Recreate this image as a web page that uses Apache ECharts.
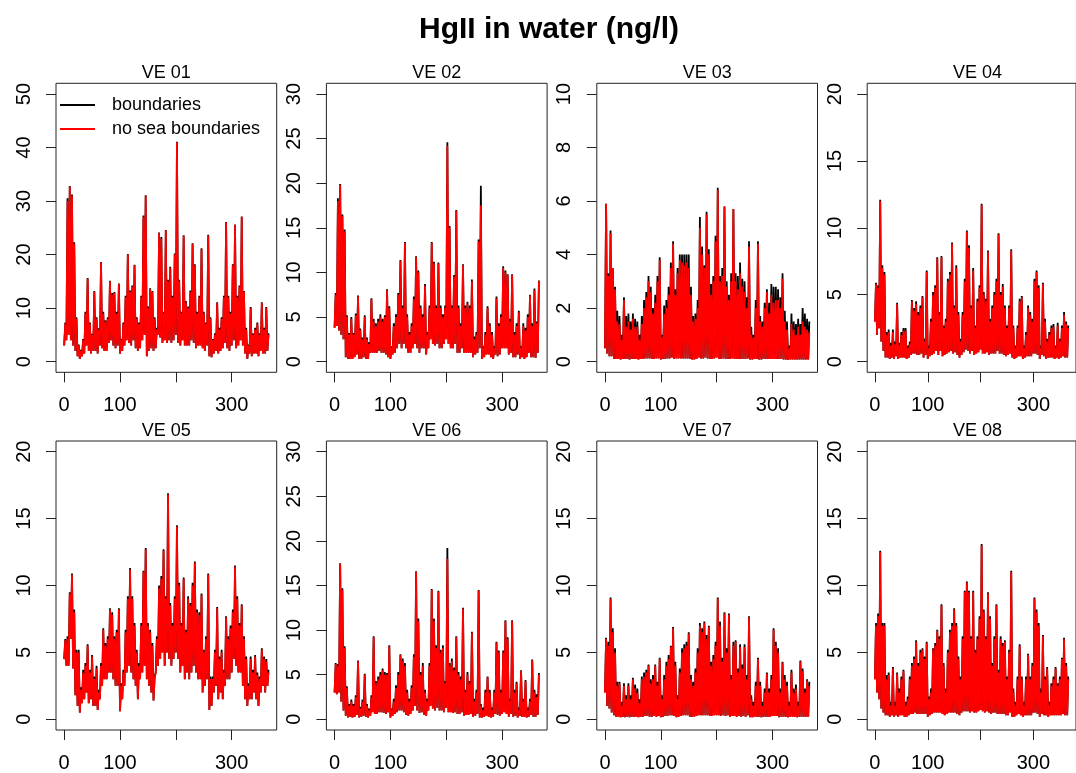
<!DOCTYPE html>
<html><head><meta charset="utf-8">
<script src="https://cdn.jsdelivr.net/npm/echarts@6/dist/echarts.min.js"></script>
<style>html,body{margin:0;padding:0;background:#fff}#chart{width:1076px;height:773px}</style>
</head><body><div id="chart"></div>
<script>
const FONT = '"Liberation Sans", Arial, Helvetica, sans-serif';
const mainTitle = 'HgII in water (ng/l)';
const panelTitles = ['VE 01', 'VE 02', 'VE 03', 'VE 04', 'VE 05', 'VE 06', 'VE 07', 'VE 08'];
const seriesNames = ['boundaries', 'no sea boundaries'];
const dayStep = 4; // each entry covers 4 days: [low of window, high of window]
const xTickValues = [0, 100, 200, 300];
const xLabelValues = [0, 100, 300];
const yLimits = [50, 30, 10, 20, 20, 30, 20, 20];
const yTickSteps = [10, 5, 2, 5, 5, 5, 5, 5];

// ---- VE 01 ----
const ve01Low = [
 3,4,5,4,3,2,1,0.5,1,1.5,
 3,2,1.5,2,2,1.5,3,2.5,2,2,
 3.5,4,3,2.5,3,1.5,2,3,4,3.5,
 3,4,2.5,2,2.5,4,5,1,2,2.5,
 2,2.5,5,4.5,3.5,4,3.5,4,3.5,4,
 5,3.5,3,4,3,3,3,4,3.5,2.5,
 3,3,2.5,2,3,1,0.8,1.5,2,1.5,
 2,2.5,3.5,2.5,2,3,4,2.5,3,4,
 3,1.5,0.5,1.5,1,1.5,1.5,1,2,1.5,
 1.5,2];
const ve01RedHigh = [
 7,30,32.7,31,22,8,3,2,4,9,
 15.5,7,5,13,8,6,18.5,9,7.5,8,
 15,12.5,12.8,9,14.5,4,7,12,20,13,
 14,18,8,7,12,27,31,10,13.5,13,
 8,6,24,23,9,24.5,15,17.5,12,20,
 41,15,9,23.5,11,10,13,22,18,9,
 12,21,9,7,23.5,8,4,5,11,6,
 8,12,26,12,9,18,25.5,12,14,27,
 13,6,3,10,5,6,7,5,11,6,
 10,5];
const ve01BlackHigh = [
 7.3,30.5,32.8,31.2,22.3,8.3,3.2,2.2,4.2,9.3,
 15.6,7.3,5.2,13.2,8.3,6.2,18.6,9.3,7.7,8.3,
 15.1,12.8,13,9.3,14.6,4.2,7.3,12.3,20.1,13.3,
 14.2,18.1,8.3,7.3,12.3,27.3,31.1,10.3,13.7,13.2,
 8.3,6.3,24.1,23.3,9.3,24.6,15.3,17.7,12.3,20.2,
 41.1,15.3,9.3,23.6,11.3,10.3,13.3,22.1,18.2,9.3,
 12.3,21.2,9.3,7.3,23.7,8.3,4.2,5.3,11.1,6.3,
 8.3,12.3,26.1,12.3,9.3,18.2,25.6,12.3,14.2,27.1,
 13.2,6.3,3.2,10.2,5.3,6.3,7.3,5.3,11.1,6.3,
 10.2,5.3];

// ---- VE 02 ----
const ve02Low = [
 3.8,4,3.5,3,2.5,0.5,0.3,0.3,0.3,0.5,
 0.8,0.3,0.3,0.5,0.3,0.3,1,1,1,1,
 1.2,1,1,0.8,0.5,0.3,0.8,1,1.5,2,
 1.5,2,1.5,1,1,1.5,2,1.5,1,1.5,
 1.5,0.8,1.5,2.5,2,1.8,2,1.5,1.5,2,
 2.5,2,1.5,1.5,2,1,1,1.5,1,1,
 1,1,0.5,0.8,1,1.5,0.3,0.5,0.8,0.8,
 0.5,0.3,0.8,0.6,0.8,1.5,1.5,1.5,0.8,1,
 0.5,0.5,0.8,0.3,0.5,0.3,0.5,1,0.5,0.5,
 0.4,1];
const ve02RedHigh = [
 7.5,18,19.8,16.3,14.6,5,3,4.8,3,5.2,
 7.3,3.5,2.5,5,2.5,2,7,4.5,4,4.5,
 5,4.5,5,8,6,1.5,4,5,7.5,11.3,
 6,13.3,5,3,4,7,11.7,10,6,5,
 8.5,3,6,13.3,11,6,11,6,5,6,
 24.2,15,6,9.5,16.9,6,4,10.8,6,6.5,
 6,9,2.5,3,13.5,17.5,1.5,3,6,4,
 3,1.5,7.1,4,5,10.5,10,9.7,4.5,9.7,
 3,4,5.5,1.5,4,3.5,5,7.4,4,8,
 4.3,9];
const ve02BlackHigh = [
 7.7,18.3,19.9,16.5,14.8,5.2,3.2,5,3.2,5.4,
 7.4,3.7,2.7,5.2,2.7,2.2,7.1,4.8,4.3,4.8,
 5.3,4.8,5.2,8.1,6.2,1.7,4.3,5.3,7.7,11.4,
 6.3,13.4,5.3,3.3,4.3,7.3,11.8,10.2,6.3,5.3,
 8.7,3.3,6.3,13.4,11.2,6.3,11.1,6.3,5.3,6.3,
 24.6,15.2,6.3,9.7,17,6.3,4.3,10.9,6.3,6.7,
 6.3,9.2,2.8,3.3,13.7,19.7,1.7,3.3,6.2,4.3,
 3.3,1.7,7.3,4.3,5.3,10.7,10.2,9.8,4.8,9.8,
 3.3,4.3,5.7,1.7,4.3,3.8,5.3,7.5,4.3,8.2,
 4.5,9.1];

// ---- VE 03 ----
const ve03Low = [
 0.5,0.3,0.2,0.2,0.1,0.1,0.1,0.08,0.1,0.1,
 0.1,0.08,0.1,0.1,0.1,0.08,0.1,0.1,0.12,0.12,
 0.12,0.1,0.1,0.12,0.12,0.08,0.1,0.1,0.12,0.12,
 0.15,0.1,0.12,0.12,0.12,0.12,0.12,0.12,0.1,0.08,
 0.08,0.1,0.15,0.12,0.12,0.15,0.12,0.1,0.1,0.12,
 0.15,0.1,0.1,0.12,0.1,0.1,0.1,0.12,0.1,0.1,
 0.1,0.1,0.1,0.1,0.12,0.08,0.08,0.1,0.1,0.08,
 0.08,0.1,0.1,0.1,0.1,0.1,0.1,0.1,0.1,0.1,
 0.08,0.08,0.06,0.08,0.08,0.08,0.08,0.08,0.08,0.08,
 0.08,0.08];
const ve03RedHigh = [
 5.9,3.2,4.8,3.5,2.7,1.5,1.4,0.8,2.3,1.3,
 1.5,1.2,1.6,1.3,1.3,0.8,1.4,2,2.4,3,
 2.6,1.8,2.2,3,3.8,0.9,1.8,2,2.5,3.5,
 4.4,2.5,3.3,3.8,3.7,3.6,3.7,3.5,2.5,1.5,
 1.6,2,5,4,3.5,5.5,4,2.5,3,4.5,
 6.4,3,3.2,5.8,2.8,2.3,3,5.7,3,2.7,
 3.3,2.8,2.6,2,4.3,1,0.9,2,4.4,1.5,
 1.3,2,2.6,1.8,2.5,2.2,2.3,2.3,2,3.1,
 1.5,1.2,0.5,1.4,1.2,1,1.3,1,1.5,1.3,
 1.2,1.1];
const ve03BlackHigh = [
 5.9,3.3,4.9,3.5,2.8,1.9,1.7,1,2.4,1.7,
 1.8,1.5,1.8,1.6,1.5,1,1.7,2.3,2.6,3.2,
 2.8,2,2.5,3.2,3.9,1,2.1,2.3,2.8,3.7,
 4.5,2.7,3.5,4,4,4,4,4,2.8,1.7,
 1.8,2.3,5.4,4.3,3.6,5.6,4.2,2.9,3.2,4.7,
 6.5,3.2,3.5,5.8,3,2.5,3.3,5.7,3.3,3.2,
 3.7,3.1,3,2.4,4.5,1.3,1,2.3,4.5,1.7,
 1.5,2.2,2.7,2.2,2.9,2.8,2.8,2.7,2.4,3.3,
 1.9,1.5,0.6,1.8,1.5,1.4,1.6,1.4,2,1.8,
 1.6,1.5];

// ---- VE 04 ----
const ve04Low = [
 3,2,2.5,1.5,0.8,0.3,0.3,0.2,0.3,0.2,
 0.4,0.2,0.3,0.3,0.3,0.2,0.3,0.5,0.6,0.6,
 0.5,0.5,0.6,0.3,0.5,0.2,0.4,0.5,0.6,0.8,
 0.5,0.8,0.4,0.5,0.6,0.7,0.8,0.6,0.7,0.5,
 0.3,0.5,0.7,0.9,0.8,0.6,0.8,0.5,0.6,0.7,
 0.9,0.6,0.6,0.7,0.5,0.6,0.6,0.6,0.8,0.6,
 0.6,0.5,0.4,0.5,0.6,0.3,0.2,0.3,0.4,0.4,
 0.2,0.3,0.4,0.4,0.4,0.6,0.6,0.5,0.2,0.5,
 0.4,0.2,0.3,0.3,0.3,0.2,0.3,0.2,0.3,0.4,
 0.3,0.3];
const ve04RedHigh = [
 5.8,5.5,12,7,6.5,2,2.2,1.2,2.2,1.3,
 4.3,1.2,2,2.3,2.3,1,1.3,4.5,3.8,4.3,
 3.5,4,4.8,1.5,6.7,1,3,5,5.5,7.7,
 3.5,7.8,2.5,3,6,6.5,8.8,4,7,3.5,
 1.5,3.5,6,9.7,8.5,4,6.8,2.5,4.5,5.5,
 11.7,5,4.5,8.2,3,4,5,6,9.5,5,
 5.6,4,2.5,4,8.3,2.5,1,2.5,4.5,4.8,
 1,2,4,3.5,3,6,6.7,5.5,1,5.8,
 3,1.5,2,2.5,2.6,1,2.7,1.5,2.5,3.5,
 2.8,2.5];
const ve04BlackHigh = [
 5.9,5.7,12.1,7.2,6.7,2.2,2.4,1.4,2.4,1.5,
 4.4,1.4,2.2,2.5,2.5,1.2,1.5,4.6,4,4.5,
 3.7,4.2,4.9,1.7,6.8,1.2,3.2,5.2,5.7,7.8,
 3.7,7.9,2.7,3.2,6.2,6.7,8.9,4.2,7.2,3.7,
 1.7,3.7,6.2,9.8,8.7,4.2,7,2.7,4.7,5.7,
 11.8,5.2,4.7,8.3,3.2,4.2,5.2,6.2,9.6,5.2,
 5.8,4.2,2.7,4.2,8.4,2.7,1.2,2.7,4.7,4.9,
 1.2,2.2,4.2,3.7,3.2,6.2,6.8,5.7,1.2,5.9,
 3.2,1.7,2.2,2.7,2.8,1.2,2.9,1.7,2.7,3.7,
 3,2.7];

// ---- VE 05 ----
const ve05Low = [
 4.5,4,4,6,3.8,1.8,1,0.5,1.2,1.5,
 2,1.2,1.5,1,1,0.7,1.5,2.5,3,3,
 3.5,3.5,3,2.5,2.5,0.6,1.5,2.5,3.5,4,
 3.5,3,2.5,1.5,3,3.5,4,3,2.5,2,
 1.4,3.5,4,4.5,5,4,5,4.5,4,4.5,
 5,4.5,3.5,4,3,3.5,3,3.5,4,3.5,
 3,3,2,2.5,3,0.7,1,2,2.5,1.5,
 2,1.5,2.5,3,3,3.5,4.5,4,3.5,3.5,
 2.5,1.5,1,1.5,1.5,2,1.5,1,2,2.5,
 2,2.5];
const ve05RedHigh = [
 5.9,6,9.4,10.8,8,5,5,2.2,3.5,4,
 5.5,3.5,4.7,3,3.8,2,4,6.7,5.5,6,
 8.2,7.8,6,6.5,8.2,2.5,3.5,6.5,9,11.2,
 9,7,5,4,7,11,12.7,7,6.5,5.5,
 3,6,9.8,10.5,12.6,9,16.8,8.5,7,9,
 14.4,10,7,10.5,6.5,9,8.5,10,11.7,8,
 7.8,9.3,5,6,10.8,3,3,5,8.3,4.5,
 5,3.5,7.6,6,6.8,8,11.4,9,7,8.5,
 6,4.5,2.5,4.5,3.5,4.7,3.3,3,5.2,4.5,
 4.3,3.5];
const ve05BlackHigh = [
 6,6.2,9.5,10.9,8.2,5.2,5.2,2.4,3.7,4.2,
 5.6,3.7,4.8,3.2,4,2.2,4.2,6.8,5.7,6.2,
 8.3,8,6.2,6.7,8.3,2.7,3.7,6.7,9.2,11.3,
 9.2,7.2,5.2,4.2,7.2,11.1,12.8,7.2,6.7,5.7,
 3.2,6.2,10,10.7,12.7,9.2,16.9,8.7,7.2,9.2,
 14.5,10.2,7.2,10.6,6.7,9.2,8.7,10.2,11.8,8.2,
 8,9.4,5.2,6.2,10.9,3.2,3.2,5.2,8.4,4.7,
 5.2,3.7,7.7,6.2,7,8.2,11.5,9.2,7.2,8.6,
 6.2,4.7,2.7,4.7,3.7,4.8,3.5,3.2,5.3,4.7,
 4.5,3.7];

// ---- VE 06 ----
const ve06Low = [
 3,2.8,3,2,1,0.4,0.2,0.3,0.2,0.3,
 0.5,0.2,0.3,0.4,0.3,0.2,0.4,0.8,0.6,0.6,
 0.8,0.8,0.7,0.6,0.8,0.2,0.4,0.6,0.8,1,
 1,0.8,0.5,0.4,0.6,1,1.5,1,0.7,0.8,
 0.5,0.4,1,1.5,1.2,1,1.3,1,1,0.8,
 1.3,0.8,0.8,0.7,0.8,0.6,0.6,0.8,0.4,0.5,
 0.5,0.6,0.3,0.4,0.6,0.2,0.2,0.3,0.4,0.3,
 0.2,0.3,0.6,0.5,0.4,0.6,0.8,0.6,0.3,0.6,
 0.3,0.4,0.2,0.4,0.3,0.3,0.2,0.3,0.5,0.3,
 0.3,0.5];
const ve06RedHigh = [
 6.2,6,17.4,14.5,8,3.5,1.5,2,1.5,2.5,
 6.5,1.2,2,5,1.5,1,2.5,9.2,4,4.5,
 5,5.5,5,5,8.2,1,2,3.5,5,7.2,
 6.5,6,3,2,3.5,7,16.5,11,5,6,
 3,2,6,14.5,11,8,14.3,7.5,8,4,
 18,6,6.5,5.5,9.2,5,4.5,12.4,3,5,
 4,9.7,2,3,14.4,1.5,1,3,4.7,3,
 1,3,8.6,7.5,3,7.5,11,9,2,11,
 3,4,1,5.4,2,4.3,1,2,6.6,3,
 2.5,5];
const ve06BlackHigh = [
 6.3,6.2,17.5,14.7,8.2,3.7,1.7,2.2,1.7,2.7,
 6.6,1.4,2.2,5.1,1.7,1.2,2.7,9.3,4.3,4.8,
 5.3,5.7,5.3,5.2,8.3,1.2,2.3,3.8,5.3,7.3,
 6.8,6.3,3.3,2.3,3.8,7.3,16.6,11.3,5.3,6.3,
 3.3,2.3,6.3,14.6,11.3,8.3,14.4,7.8,8.3,4.3,
 19.2,6.3,6.8,5.8,9.3,5.3,4.8,12.5,3.3,5.3,
 4.3,9.8,2.3,3.3,14.5,1.7,1.3,3.3,4.8,3.3,
 1.3,3.3,8.7,7.7,3.3,7.7,11.1,9.2,2.3,11.1,
 3.3,4.2,1.3,5.5,2.3,4.4,1.3,2.3,6.7,3.3,
 2.8,5.2];

// ---- VE 07 ----
const ve07Low = [
 2,1,0.8,0.5,0.3,0.2,0.2,0.15,0.2,0.15,
 0.2,0.15,0.2,0.2,0.2,0.15,0.2,0.2,0.25,0.25,
 0.2,0.2,0.25,0.2,0.25,0.15,0.2,0.25,0.25,0.3,
 0.3,0.25,0.15,0.2,0.25,0.3,0.3,0.3,0.2,0.2,
 0.2,0.25,0.3,0.3,0.3,0.3,0.3,0.25,0.25,0.3,
 0.3,0.3,0.25,0.3,0.25,0.3,0.2,0.25,0.25,0.2,
 0.25,0.2,0.25,0.2,0.3,0.15,0.15,0.2,0.2,0.2,
 0.15,0.2,0.2,0.2,0.2,0.25,0.25,0.25,0.15,0.2,
 0.2,0.2,0.15,0.2,0.2,0.2,0.15,0.2,0.2,0.2,
 0.2,0.2];
const ve07RedHigh = [
 6,5.5,9,6.5,5,2.5,2.7,1,2.5,1.5,
 2.5,1.5,3,2.3,2,1.2,3,3.2,3.5,4,
 2.7,3,4,2.5,4.5,1.5,3,4,4.5,5.4,
 6.8,4,1.5,3.5,5,5.3,5.5,6.4,3,2.5,
 3.5,5,7,6.5,7.2,6,6.9,4,4.5,5.5,
 9,7,4.3,7.9,5,7.8,3,5.5,5.8,3.5,
 5.4,3.8,5.4,3,7.6,1.5,1,2.5,4.5,2.5,
 1,2,3.4,2,3,6.7,5.5,5,2,4.2,
 3,2.5,1,3.5,2,2.3,1,4.3,3.6,2,
 2.9,2.5];
const ve07BlackHigh = [
 6.1,5.8,9.1,6.8,5.3,2.8,2.8,1.3,2.7,1.8,
 2.7,1.8,3.1,2.6,2.3,1.5,3.2,3.5,3.7,4.1,
 3,3.3,4.1,2.8,4.6,1.8,3.3,4.3,4.8,5.5,
 6.9,4.3,1.8,3.8,5.3,5.6,5.8,6.5,3.3,2.8,
 3.8,5.3,7.2,6.8,7.3,6.3,7,4.3,4.8,5.8,
 9.1,7.3,4.6,8,5.3,7.9,3.3,5.8,5.9,3.8,
 5.6,4.1,5.6,3.3,7.7,1.8,1.3,2.8,4.6,2.8,
 1.3,2.3,3.5,2.3,3.3,6.8,5.8,5.3,2.3,4.3,
 3.3,2.8,1.3,3.7,2.3,2.6,1.3,4.4,3.8,2.3,
 3,2.8];

// ---- VE 08 ----
const ve08Low = [
 3,2,1.5,0.8,0.5,0.3,0.3,0.2,0.3,0.2,
 0.3,0.2,0.3,0.3,0.2,0.2,0.3,0.4,0.4,0.5,
 0.4,0.4,0.4,0.4,0.4,0.2,0.3,0.4,0.5,0.5,
 0.5,0.5,0.4,0.3,0.4,0.5,0.5,0.5,0.5,0.4,
 0.3,0.5,0.6,0.6,0.6,0.5,0.6,0.5,0.5,0.6,
 0.7,0.6,0.5,0.6,0.5,0.4,0.5,0.5,0.4,0.4,
 0.4,0.4,0.3,0.3,0.5,0.2,0.2,0.3,0.4,0.3,
 0.2,0.3,0.3,0.3,0.3,0.5,0.5,0.4,0.2,0.4,
 0.3,0.3,0.2,0.3,0.3,0.3,0.3,0.3,0.3,0.4,
 0.3,0.3];
const ve08RedHigh = [
 7,7.7,12.5,7,7,3,3.3,1,3.8,1,
 3.4,2,3,3.6,1,1.5,3,4,4.5,5.8,
 4,5,5.2,4.5,5.7,1.5,2,5.2,5.5,6.6,
 6,8.5,4,2,5,6.5,7,8.2,7,4.5,
 3,6,9.5,10.2,9.5,6,9.5,5,6,7.5,
 13,8,6,9.4,7.5,4,6,8.5,3.5,6,
 5.5,5.8,3,5,11,2,1,3,5.5,3,
 1,3,4.8,3,4,9,8,7,2,6.2,
 3,3.8,1,2.5,3,3.8,2.5,3,4.5,6,
 4,3];
const ve08BlackHigh = [
 7.2,7.9,12.6,7.2,7.2,3.3,3.5,1.3,3.9,1.3,
 3.5,2.3,3.2,3.7,1.3,1.7,3.2,4.2,4.7,5.9,
 4.2,5.2,5.3,4.7,5.8,1.7,2.3,5.3,5.7,6.7,
 6.2,8.6,4.2,2.3,5.2,6.7,7.2,8.3,7.2,4.7,
 3.2,6.2,9.6,10.3,9.6,6.2,9.6,5.2,6.2,7.7,
 13.1,8.2,6.2,9.5,7.7,4.2,6.2,8.6,3.7,6.2,
 5.7,5.9,3.2,5.2,11.1,2.3,1.3,3.2,5.6,3.2,
 1.3,3.2,4.9,3.2,4.2,9.1,8.2,7.2,2.3,6.3,
 3.2,3.9,1.3,2.7,3.2,3.9,2.7,3.2,4.6,6.1,
 4.2,3.2];

const panelLow = [ve01Low, ve02Low, ve03Low, ve04Low, ve05Low, ve06Low, ve07Low, ve08Low];
const panelRedHigh = [ve01RedHigh, ve02RedHigh, ve03RedHigh, ve04RedHigh, ve05RedHigh, ve06RedHigh, ve07RedHigh, ve08RedHigh];
const panelBlackHigh = [ve01BlackHigh, ve02BlackHigh, ve03BlackHigh, ve04BlackHigh, ve05BlackHigh, ve06BlackHigh, ve07BlackHigh, ve08BlackHigh];

function zigzag(low, high) {
  const out = [];
  for (let i = 0; i < low.length; i++) {
    out.push([i * dayStep, low[i]]);
    out.push([i * dayStep + dayStep / 2, high[i]]);
  }
  return out;
}

// layout
const colLeft = [56, 326.4, 596.8, 867.2];
const rowTop = [83.3, 441];
const boxW = 220.7, boxH = 289;
const xMin = -14.64, xMax = 380.64;

const grids = [], xAxes = [], yAxes = [], series = [];
const titles = [{
  text: mainTitle, left: 549, top: 15, textAlign: 'center', padding: 0,
  textStyle: {fontFamily: FONT, fontSize: 30, fontWeight: 'bold', color: '#000'}
}];

for (let p = 0; p < 8; p++) {
  const c = p % 4, r = Math.floor(p / 4);
  grids.push({left: colLeft[c], top: rowTop[r], width: boxW, height: boxH,
    show: true, borderColor: '#222', borderWidth: 1, backgroundColor: 'transparent', containLabel: false});
  xAxes.push({
    type: 'value', gridIndex: p, min: xMin, max: xMax, position: 'bottom',
    axisLine: {show: false, onZero: false}, splitLine: {show: false},
    axisTick: {show: true, customValues: xTickValues, length: 10, lineStyle: {color: '#222', width: 1}},
    axisLabel: {show: true, customValues: xLabelValues, margin: 23, fontSize: 20, fontFamily: FONT, color: '#000'}
  });
  const lim = yLimits[p], step = yTickSteps[p];
  const yt = [];
  for (let v = 0; v <= lim + 1e-9; v += step) yt.push(v);
  yAxes.push({
    type: 'value', gridIndex: p, min: -0.04 * lim, max: 1.04 * lim, position: 'left',
    axisLine: {show: false, onZero: false}, splitLine: {show: false},
    axisTick: {show: true, customValues: yt, length: 10, lineStyle: {color: '#222', width: 1}},
    axisLabel: {show: true, customValues: yt, rotate: 90, margin: 22, fontSize: 20, fontFamily: FONT, color: '#000'}
  });
  titles.push({
    text: panelTitles[p], left: colLeft[c] + boxW / 2, top: rowTop[r] - 19, textAlign: 'center', padding: 0,
    textStyle: {fontFamily: FONT, fontSize: 18, fontWeight: 'normal', color: '#000'}
  });
  series.push({
    name: seriesNames[0], type: 'line', xAxisIndex: p, yAxisIndex: p,
    data: zigzag(panelLow[p], panelBlackHigh[p]), showSymbol: false, symbol: 'none',
    lineStyle: {color: '#000', width: 1.8}, itemStyle: {color: '#000'}, z: 2, silent: true
  });
  series.push({
    name: seriesNames[1], type: 'line', xAxisIndex: p, yAxisIndex: p,
    data: zigzag(panelLow[p], panelRedHigh[p]), showSymbol: false, symbol: 'none',
    lineStyle: {color: '#FF0000', width: 1.8}, itemStyle: {color: '#FF0000'}, z: 3, silent: true
  });
}

const chart = echarts.init(document.getElementById('chart'), null, {renderer: 'canvas'});
chart.setOption({
  animation: false,
  backgroundColor: '#fff',
  title: titles,
  legend: {
    data: seriesNames, orient: 'vertical', left: 60, top: 96, padding: 0,
    itemWidth: 35, itemHeight: 2, itemGap: 6, icon: 'rect', selectedMode: false,
    textStyle: {fontFamily: FONT, fontSize: 18, color: '#000', lineHeight: 18, padding: [0, 0, 0, 12]}
  },
  grid: grids, xAxis: xAxes, yAxis: yAxes, series: series
});
</script></body></html>
